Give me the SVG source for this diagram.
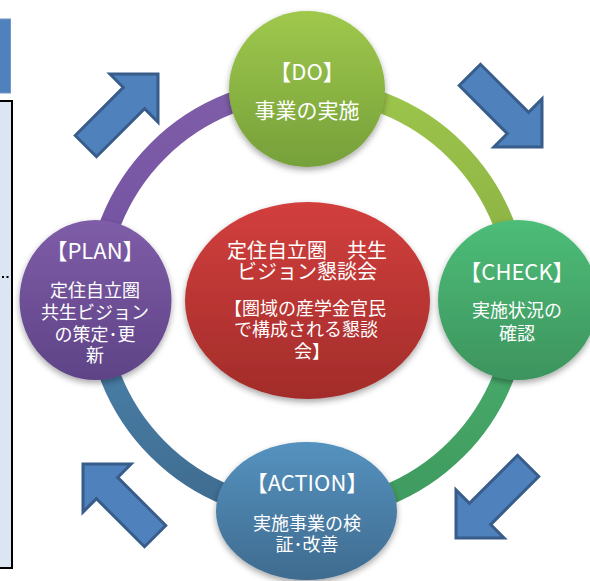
<svg xmlns="http://www.w3.org/2000/svg" xmlns:xlink="http://www.w3.org/1999/xlink" width="590" height="581" viewBox="0 0 590 581">
<style>
.t{fill:#fff;font-family:"Noto Sans CJK JP","Noto Sans CJK SC",sans-serif;text-anchor:middle}
.h{font-size:22px}
.b{font-size:18px}
.arrow{fill:#4f81bd;stroke:#385d8a;stroke-width:3;stroke-linejoin:miter}
.ring{fill:none;stroke-width:21}
</style>
<defs>
<filter id="sh" x="-20%" y="-20%" width="140%" height="150%">
<feDropShadow dx="0" dy="3" stdDeviation="3" flood-color="#000" flood-opacity="0.35"/>
</filter>
<linearGradient id="gDo" x1="0" y1="0" x2="0" y2="1"><stop offset="0" stop-color="#9fc84c"/><stop offset="1" stop-color="#76a03a"/></linearGradient>
<linearGradient id="gCheck" x1="0" y1="0" x2="0" y2="1"><stop offset="0" stop-color="#4dbd78"/><stop offset="1" stop-color="#3d945e"/></linearGradient>
<linearGradient id="gPlan" x1="0" y1="0" x2="0" y2="1"><stop offset="0" stop-color="#7f5da8"/><stop offset="1" stop-color="#5e4386"/></linearGradient>
<linearGradient id="gAction" x1="0" y1="0" x2="0" y2="1"><stop offset="0" stop-color="#5592bf"/><stop offset="1" stop-color="#3f6b8f"/></linearGradient>
<linearGradient id="gRed" x1="0" y1="0" x2="0" y2="1"><stop offset="0" stop-color="#d23f3d"/><stop offset="1" stop-color="#a22c2a"/></linearGradient>
<linearGradient id="aPlan" x1="0" y1="0" x2="0" y2="1"><stop offset="0" stop-color="#7f5da8"/><stop offset="1" stop-color="#7050a0"/></linearGradient>
<linearGradient id="aDo" x1="0" y1="0" x2="0" y2="1"><stop offset="0" stop-color="#9cc54b"/><stop offset="1" stop-color="#88ad42"/></linearGradient>
<linearGradient id="aCheck" x1="0" y1="0" x2="0" y2="1"><stop offset="0" stop-color="#4aaf6d"/><stop offset="1" stop-color="#3f9a5f"/></linearGradient>
<linearGradient id="aAction" x1="0" y1="0" x2="0" y2="1"><stop offset="0" stop-color="#4d86b0"/><stop offset="1" stop-color="#3f6b8f"/></linearGradient>
<path id="arw" d="M0,0 L-34,-34 L-34,-15 L-102,-15 L-102,15 L-34,15 L-34,34 Z"/>
</defs>
<rect width="590" height="581" fill="#fff"/>
<g id="side-panel">
<rect x="-2" y="19" width="12.5" height="74" fill="#4f81bd" stroke="#6f97c8" stroke-width="1"/>
<rect x="-4" y="101" width="16" height="467" fill="#dce6f2" stroke="#000" stroke-width="2"/>
<line x1="2" y1="277" x2="11" y2="277" stroke="#000" stroke-width="2" stroke-dasharray="2,2.5"/>
</g>
<g id="connectors">
<path class="ring" stroke="url(#aPlan)" d="M96,300 A211,211 0 0 1 307,89"/>
<path class="ring" stroke="url(#aDo)" d="M307,89 A211,211 0 0 1 518,300"/>
<path class="ring" stroke="url(#aCheck)" d="M518,300 A211,211 0 0 1 307,511"/>
<path class="ring" stroke="url(#aAction)" d="M307,511 A211,211 0 0 1 96,300"/>
</g>
<g id="arrows">
<use xlink:href="#arw" class="arrow" transform="translate(158,74) rotate(-45)"/>
<use xlink:href="#arw" class="arrow" transform="translate(542,147) rotate(45)"/>
<use xlink:href="#arw" class="arrow" transform="translate(456,538) rotate(135)"/>
<use xlink:href="#arw" class="arrow" transform="translate(83,464) rotate(-135)"/>
</g>
<g id="center">
<ellipse cx="307.5" cy="300.5" rx="122.5" ry="98.5" fill="url(#gRed)" filter="url(#sh)"/>
<text class="t" font-size="20"><tspan x="307" y="258">定住自立圏　共生</tspan><tspan x="307" y="279">ビジョン懇談会</tspan></text>
<text class="t" font-size="18"><tspan x="305" y="315">【圏域の産学金官民</tspan><tspan x="306" y="336">で構成される懇談</tspan><tspan x="312" y="358">会】</tspan></text>
</g>
<g id="do">
<circle cx="307" cy="89" r="78" fill="url(#gDo)" filter="url(#sh)"/>
<text class="t h" x="307" y="80">【DO】</text>
<text class="t" x="307" y="118" font-size="21">事業の実施</text>
</g>
<g id="check">
<circle cx="518" cy="300" r="80" fill="url(#gCheck)" filter="url(#sh)"/>
<text class="t h" x="517" y="280">【CHECK】</text>
<text class="t b"><tspan x="517" y="317">実施状況の</tspan><tspan x="517" y="340">確認</tspan></text>
</g>
<g id="plan">
<ellipse cx="95.5" cy="300" rx="76" ry="80" fill="url(#gPlan)" filter="url(#sh)"/>
<text class="t h" x="95" y="259">【PLAN】</text>
<text class="t b"><tspan x="95" y="297">定住自立圏</tspan><tspan x="95" y="319">共生ビジョン</tspan><tspan x="95" y="341">の策定･更</tspan><tspan x="95" y="362">新</tspan></text>
</g>
<g id="action">
<ellipse cx="306.5" cy="511" rx="90.5" ry="69" fill="url(#gAction)" filter="url(#sh)"/>
<text class="t h" x="307" y="491">【ACTION】</text>
<text class="t b"><tspan x="307" y="530">実施事業の検</tspan><tspan x="307" y="551">証･改善</tspan></text>
</g>
</svg>
